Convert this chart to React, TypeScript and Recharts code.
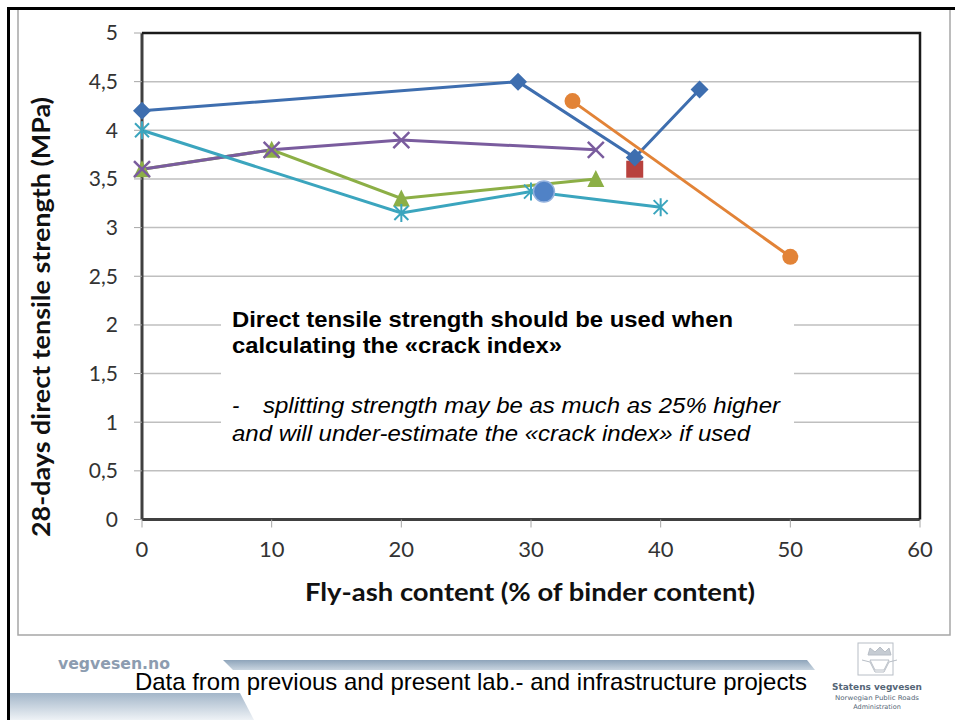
import React from "react";
import { LineChart, Line, XAxis, YAxis, CartesianGrid } from "recharts";

// axis ticks
const xTicks = [0, 10, 20, 30, 40, 50, 60];
const yTicks = [0, 0.5, 1, 1.5, 2, 2.5, 3, 3.5, 4, 4.5, 5];

// series (fly-ash %, MPa)
const blueDiamond = [
  { x: 0, y: 4.2 },
  { x: 29, y: 4.5 },
  { x: 38, y: 3.72 },
  { x: 43, y: 4.42 },
];
const redSquare = [{ x: 38, y: 3.6 }];
const greenTriangle = [
  { x: 0, y: 3.6 },
  { x: 10, y: 3.8 },
  { x: 20, y: 3.3 },
  { x: 35, y: 3.5 },
];
const purpleCross = [
  { x: 0, y: 3.6 },
  { x: 10, y: 3.8 },
  { x: 20, y: 3.9 },
  { x: 35, y: 3.8 },
];
const cyanStar = [
  { x: 0, y: 4.0 },
  { x: 20, y: 3.15 },
  { x: 30, y: 3.37 },
  { x: 40, y: 3.21 },
];
const orangeCircle = [
  { x: 33.2, y: 4.3 },
  { x: 50, y: 2.7 },
];
const blueCircle = [{ x: 31, y: 3.37 }];

const fmt = (v: number) => String(v).replace(".", ",");

type DotProps = { cx?: number; cy?: number; index?: number };

const diamondDot = (color: string) => ({ cx, cy, index }: DotProps) => {
  if (cx == null || cy == null) return <g key={index} />;
  const s = 9;
  return (
    <path
      key={index}
      d={`M${cx},${cy - s}L${cx + s},${cy}L${cx},${cy + s}L${cx - s},${cy}Z`}
      fill={color}
    />
  );
};

const squareDot = (color: string) => ({ cx, cy, index }: DotProps) => {
  if (cx == null || cy == null) return <g key={index} />;
  return <rect key={index} x={cx - 8.5} y={cy - 8.5} width={17} height={17} fill={color} />;
};

const triangleDot = (color: string) => ({ cx, cy, index }: DotProps) => {
  if (cx == null || cy == null) return <g key={index} />;
  return (
    <path
      key={index}
      d={`M${cx},${cy - 9}L${cx + 8.5},${cy + 8}L${cx - 8.5},${cy + 8}Z`}
      fill={color}
    />
  );
};

const crossDot = (color: string) => ({ cx, cy, index }: DotProps) => {
  if (cx == null || cy == null) return <g key={index} />;
  const s = 8;
  return (
    <path
      key={index}
      d={`M${cx - s},${cy - s}L${cx + s},${cy + s}M${cx - s},${cy + s}L${cx + s},${cy - s}`}
      stroke={color}
      strokeWidth={2.5}
    />
  );
};

const starDot = (color: string) => ({ cx, cy, index }: DotProps) => {
  if (cx == null || cy == null) return <g key={index} />;
  const s = 7;
  return (
    <path
      key={index}
      d={`M${cx - s},${cy - s}L${cx + s},${cy + s}M${cx - s},${cy + s}L${cx + s},${cy - s}M${cx},${cy - 9}L${cx},${cy + 9}`}
      stroke={color}
      strokeWidth={2}
    />
  );
};

const circleDot = (color: string, r: number, edge?: string) => ({ cx, cy, index }: DotProps) => {
  if (cx == null || cy == null) return <g key={index} />;
  return (
    <circle key={index} cx={cx} cy={cy} r={r} fill={color} stroke={edge || "none"} strokeWidth={1.5} />
  );
};

const tickFont = { fontFamily: "Lato, 'Open Sans', sans-serif", fill: "#333" };

function Overlay() {
  return (
    <svg
      width={955}
      height={720}
      style={{ position: "absolute", left: 0, top: 0, pointerEvents: "none" }}
    >
      <defs>
        <linearGradient id="barGrad" x1="0" y1="0" x2="0" y2="1">
          <stop offset="0%" stopColor="#8ea4ba" />
          <stop offset="100%" stopColor="#c9d5e0" />
        </linearGradient>
        <linearGradient id="baseGrad" x1="0" y1="0" x2="0" y2="1">
          <stop offset="0%" stopColor="#a3b6c9" />
          <stop offset="100%" stopColor="#eef2f6" />
        </linearGradient>
      </defs>

      {/* chart frame */}
      <rect x={18} y={9} width={932} height={626} fill="none" stroke="#a6a6a6" strokeWidth={1.5} />

      {/* plot area top / right border */}
      <path d="M142,33L920,33L920,519.5" fill="none" stroke="#1a1a1a" strokeWidth={2.5} />

      {/* annotation box */}
      <rect x={221} y={292} width={573} height={166} fill="#fff" />
      <g fontFamily="'Liberation Sans', Arial, sans-serif" fontSize={22} fill="#000">
        <text x={232} y={327} fontWeight={700} textLength={501} lengthAdjust="spacingAndGlyphs">
          Direct tensile strength should be used when
        </text>
        <text x={232} y={353} fontWeight={700} textLength={330} lengthAdjust="spacingAndGlyphs">
          calculating the «crack index»
        </text>
        <text x={232} y={413} fontStyle="italic">
          -
        </text>
        <text x={263} y={413} fontStyle="italic" textLength={517} lengthAdjust="spacingAndGlyphs">
          splitting strength may be as much as 25% higher
        </text>
        <text x={232} y={441} fontStyle="italic" textLength={518} lengthAdjust="spacingAndGlyphs">
          and will under-estimate the «crack index» if used
        </text>
      </g>

      {/* axis titles */}
      <text
        transform="translate(50,317) rotate(-90)"
        textAnchor="middle"
        fontFamily="Lato, 'Open Sans', sans-serif"
        fontWeight={700}
        fontSize={25}
        fill="#111"
        textLength={440}
        lengthAdjust="spacingAndGlyphs"
      >
        28-days direct tensile strength (MPa)
      </text>
      <text
        x={305}
        y={601}
        fontFamily="Lato, 'Open Sans', sans-serif"
        fontWeight={700}
        fontSize={25}
        fill="#111"
        textLength={450}
        lengthAdjust="spacingAndGlyphs"
      >
        Fly-ash content (% of binder content)
      </text>

      {/* footer */}
      <polygon points="223,660 807,660 815,670 233,670" fill="url(#barGrad)" />
      <polygon points="10,693 240,693 254,720 10,720" fill="url(#baseGrad)" />
      <text
        x={58}
        y={669}
        fontFamily="'DejaVu Sans', Verdana, sans-serif"
        fontWeight={700}
        fontSize={15}
        fill="#8c9cb0"
        textLength={112}
        lengthAdjust="spacingAndGlyphs"
      >
        vegvesen.no
      </text>
      <text
        x={135}
        y={690}
        fontFamily="'Liberation Sans Narrow', 'Arial Narrow', 'Liberation Sans', Arial, sans-serif"
        fontSize={24}
        fill="#000"
        textLength={672}
        lengthAdjust="spacingAndGlyphs"
      >
        Data from previous and present lab.- and infrastructure projects
      </text>

      {/* logo */}
      <g stroke="#b8bec6" fill="none" strokeWidth={1}>
        <rect x={858} y={643} width={35} height={32} />
        <path d="M868,655L870,648L875,652L880,647L885,652L889,648L891,655Z" fill="#c6ccd3" />
        <path d="M862,660L870,662L875,672L884,672L889,662L897,660" />
        <path d="M870,660L875,670L884,670L889,660Z" />
      </g>
      <g fontFamily="'DejaVu Sans', Verdana, sans-serif" textAnchor="middle" fill="#556677">
        <text x={877} y={690} fontSize={9.5} fontWeight={700} textLength={90} lengthAdjust="spacingAndGlyphs">
          Statens vegvesen
        </text>
        <text x={877} y={700} fontSize={6.5} textLength={84} lengthAdjust="spacingAndGlyphs">
          Norwegian Public Roads
        </text>
        <text x={877} y={709} fontSize={6.5}>
          Administration
        </text>
      </g>

      {/* slide border */}
      <path d="M8.5,720L8.5,8.5L955,8.5" fill="none" stroke="#000" strokeWidth={3} />
    </svg>
  );
}

export default function App() {
  return (
    <div
      style={{
        position: "absolute",
        left: 0,
        top: 0,
        width: 955,
        height: 720,
        background: "#fff",
        overflow: "hidden",
      }}
    >
      <LineChart
        width={955}
        height={720}
        margin={{ top: 33, right: 35, left: 82, bottom: 160.5 }}
      >
        <CartesianGrid vertical={false} stroke="#bfbfbf" strokeWidth={1.5} />
        <XAxis
          dataKey="x"
          type="number"
          domain={[0, 60]}
          ticks={xTicks}
          allowDuplicatedCategory={false}
          height={40}
          tickSize={8}
          tickMargin={14}
          axisLine={{ stroke: "#404040", strokeWidth: 3 }}
          tickLine={{ stroke: "#a6a6a6" }}
          tick={{ ...tickFont, fontSize: 22 }}
        />
        <YAxis
          type="number"
          domain={[0, 5]}
          ticks={yTicks}
          width={60}
          tickSize={8}
          tickMargin={16}
          tickFormatter={fmt}
          axisLine={{ stroke: "#404040", strokeWidth: 3 }}
          tickLine={{ stroke: "#a6a6a6" }}
          tick={{ ...tickFont, fontSize: 21 }}
        />
        <Line
          data={redSquare}
          dataKey="y"
          stroke="#b8413d"
          strokeWidth={3}
          dot={squareDot("#b8413d")}
          activeDot={false}
          isAnimationActive={false}
        />
        <Line
          data={blueDiamond}
          dataKey="y"
          stroke="#3e6eaf"
          strokeWidth={3}
          dot={diamondDot("#3e6eaf")}
          activeDot={false}
          isAnimationActive={false}
        />
        <Line
          data={greenTriangle}
          dataKey="y"
          stroke="#8caf46"
          strokeWidth={3}
          dot={triangleDot("#8caf46")}
          activeDot={false}
          isAnimationActive={false}
        />
        <Line
          data={purpleCross}
          dataKey="y"
          stroke="#7a5c9e"
          strokeWidth={3}
          dot={crossDot("#7a5c9e")}
          activeDot={false}
          isAnimationActive={false}
        />
        <Line
          data={cyanStar}
          dataKey="y"
          stroke="#3ba5be"
          strokeWidth={3}
          dot={starDot("#3ba5be")}
          activeDot={false}
          isAnimationActive={false}
        />
        <Line
          data={orangeCircle}
          dataKey="y"
          stroke="#e28337"
          strokeWidth={3}
          dot={circleDot("#e28337", 8)}
          activeDot={false}
          isAnimationActive={false}
        />
        <Line
          data={blueCircle}
          dataKey="y"
          stroke="#5082c6"
          strokeWidth={3}
          dot={circleDot("#5082c6", 10.5, "#93b1dd")}
          activeDot={false}
          isAnimationActive={false}
        />
      </LineChart>
      <Overlay />
    </div>
  );
}
